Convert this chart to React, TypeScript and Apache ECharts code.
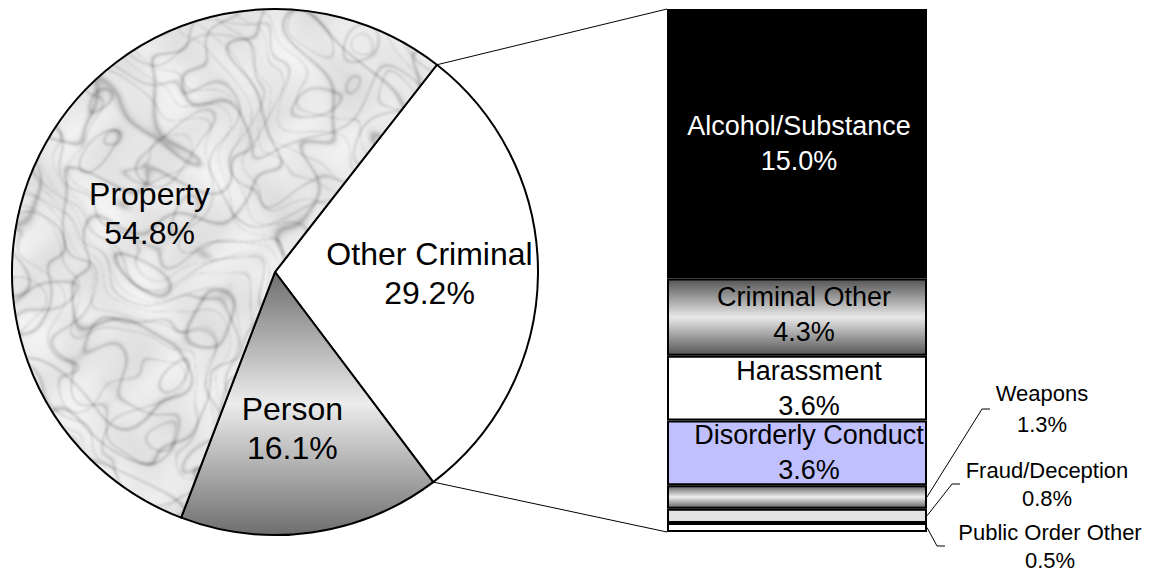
import React, { useEffect, useRef } from "react";
import * as echarts from "echarts";

// ---------- data ----------
const pieNames = ["Other Criminal", "Person", "Property"];
const pieValues = [29.2, 16.1, 54.8];

const barNames = [
  "Alcohol/Substance",
  "Criminal Other",
  "Harassment",
  "Disorderly Conduct",
  "Weapons",
  "Fraud/Deception",
  "Public Order Other",
];
const barValues = [15.0, 4.3, 3.6, 3.6, 1.3, 0.8, 0.5];

// ---------- layout / style ----------
const W = 1160;
const H = 573;
const FONT = "'Liberation Sans', Arial, sans-serif";
const PIE_CX = 275;
const PIE_CY = 272;
const PIE_R = 263;
const START_ANGLE = 52;
const BAR_L = 667;
const BAR_R = 927;
const BAR_T = 9;
const BAR_B = 532;

// label anchor: fraction of radius along the slice's mid angle, plus a pixel offset
const pieLabelRadius = 0.5;
const pieLabelOffsets = [
  [23, 0],
  [-1, 26],
  [-11, 6],
];
const barLabelOffsets = [
  [2, 0],
  [7, -3],
  [12, 0],
  [12, 0],
];
// outside label layout for the small segments (index 4,5,6)
const outsideLabelLayout = [
  { cx: 1042, cy: 409, elbowX: 982, stubX: 990, lh: 31 },
  { cx: 1047, cy: 484, elbowX: 952, stubX: 960, lh: 28 },
  { cx: 1050, cy: 546, elbowX: 937, stubX: 945, lh: 28 },
];

function vGrad(edge: string, mid: string) {
  return new echarts.graphic.LinearGradient(0, 0, 0, 1, [
    { offset: 0, color: edge },
    { offset: 0.5, color: mid },
    { offset: 1, color: edge },
  ]);
}

function makeMarble(): HTMLCanvasElement {
  const size = 560;
  const c = document.createElement("canvas");
  c.width = size;
  c.height = size;
  const ctx = c.getContext("2d")!;
  const img = ctx.createImageData(size, size);
  for (let y = 0; y < size; y++) {
    for (let x = 0; x < size; x++) {
      const w1 =
        1.5 * Math.sin(x * 0.023 + 1.4 * Math.sin(y * 0.019 + 0.3)) +
        1.0 * Math.sin(y * 0.031 + 1.1 * Math.sin(x * 0.027 + 0.5)) +
        0.5 * Math.sin(x * 0.071 - y * 0.053 + 0.9 * Math.sin(y * 0.06));
      const w2 =
        1.3 * Math.sin(y * 0.026 + 1.3 * Math.sin(x * 0.021 + 1.1)) +
        0.9 * Math.sin(x * 0.039 + 0.9 * Math.sin(y * 0.034 + 2.0)) +
        0.45 * Math.sin(y * 0.083 + x * 0.047 + 0.8 * Math.sin(x * 0.07));
      const t1 = x * 0.02 + y * 0.014 + w1;
      const t2 = -x * 0.016 + y * 0.022 + w2;
      const t3 = x * 0.035 - y * 0.028 + 0.6 * w1 - 0.8 * w2;
      const v1 = Math.pow(1 - Math.abs(Math.sin(t1 * 1.8)), 8);
      const v2 = Math.pow(1 - Math.abs(Math.sin(t2 * 2.1)), 10);
      const v3 = Math.pow(1 - Math.abs(Math.sin(t3 * 2.6)), 14);
      const blot =
        7 * Math.sin(x * 0.035 + y * 0.02) * Math.sin(y * 0.045 - x * 0.015) +
        4 * Math.sin(x * 0.09 + 2 * Math.sin(y * 0.05));
      const base = 232 + blot;
      let g = base - 60 * v1 - 50 * v2 - 45 * v3;
      g = Math.max(130, Math.min(248, g));
      const k = (y * size + x) * 4;
      img.data[k] = g;
      img.data[k + 1] = g;
      img.data[k + 2] = g;
      img.data[k + 3] = 255;
    }
  }
  ctx.putImageData(img, 0, 0);
  const c2 = document.createElement("canvas");
  c2.width = size;
  c2.height = size;
  const ctx2 = c2.getContext("2d")!;
  ctx2.fillStyle = "#e8e8e8";
  ctx2.fillRect(0, 0, size, size);
  ctx2.filter = "blur(1.2px)";
  ctx2.drawImage(c, 0, 0);
  return c2;
}

export default function App() {
  const ref = useRef<HTMLDivElement>(null);

  useEffect(() => {
    const chart = echarts.init(ref.current!, null, { renderer: "svg" });

    const pieFills: any[] = [
      "#ffffff",
      vGrad("#6e6e6e", "#ececec"),
      { image: makeMarble(), repeat: "repeat" },
    ];
    const barFills: any[] = [
      "#000000",
      vGrad("#555555", "#e8e8e8"),
      "#ffffff",
      "#c0c0ff",
      vGrad("#666666", "#eeeeee"),
      "#e3e3e3",
      "#ffffff",
    ];

    const barTotal = barValues.reduce((a, b) => a + b, 0);
    const pieTotal = pieValues.reduce((a, b) => a + b, 0);

    // slice mid angles from the data
    const pieMid: number[] = [];
    {
      let acc = 0;
      pieValues.forEach((v) => {
        const a = START_ANGLE - (360 * (acc + v / 2)) / pieTotal;
        pieMid.push((a * Math.PI) / 180);
        acc += v;
      });
    }

    const option: any = {
      animation: false,
      backgroundColor: "#ffffff",
      grid: {
        left: BAR_L,
        right: W - BAR_R,
        top: BAR_T,
        bottom: H - BAR_B,
      },
      xAxis: { type: "category", data: ["Other Criminal"], show: false },
      yAxis: { type: "value", min: 0, max: barTotal, inverse: true, show: false },
      series: [
        {
          type: "pie",
          center: [PIE_CX, PIE_CY],
          radius: [0, PIE_R],
          startAngle: START_ANGLE,
          clockwise: true,
          silent: true,
          avoidLabelOverlap: false,
          data: pieNames.map((n, i) => ({
            name: n,
            value: pieValues[i],
            itemStyle: { color: pieFills[i] },
          })),
          itemStyle: { borderColor: "#000", borderWidth: 2 },
          label: {
            show: true,
            position: "inside",
            formatter: (p: any) => `${p.name}\n${Number(p.value).toFixed(1)}%`,
            color: "#000",
            fontSize: 32,
            lineHeight: 39,
            fontFamily: FONT,
            align: "center",
            verticalAlign: "middle",
          },
          labelLine: { show: false },
          labelLayout: (params: any) => {
            const i = params.dataIndex;
            const o = pieLabelOffsets[i] || [0, 0];
            const a = pieMid[i];
            return {
              x: PIE_CX + pieLabelRadius * PIE_R * Math.cos(a) + o[0],
              y: PIE_CY - pieLabelRadius * PIE_R * Math.sin(a) + o[1],
              align: "center",
              verticalAlign: "middle",
            };
          },
        },
        ...barNames.map((name, i) => ({
          type: "bar",
          name,
          stack: "total",
          data: [barValues[i]],
          barWidth: "100%",
          barCategoryGap: "0%",
          silent: true,
          itemStyle: { color: barFills[i], borderColor: "#000", borderWidth: 2 },
          label: {
            show: i < 4,
            position: "inside",
            formatter: (p: any) => `${p.seriesName}\n${Number(p.value).toFixed(1)}%`,
            color: i === 0 ? "#ffffff" : "#000000",
            fontSize: 27,
            lineHeight: 35,
            fontFamily: FONT,
            offset: barLabelOffsets[i] || [0, 0],
          },
        })),
      ],
    };

    chart.setOption(option);

    // ---- connectors and outside labels, computed from the library's scales ----
    const graphics: any[] = [];
    const a1 = (START_ANGLE * Math.PI) / 180;
    const a2 = ((START_ANGLE - (360 * pieValues[0]) / pieTotal) * Math.PI) / 180;
    const yTop = chart.convertToPixel({ yAxisIndex: 0 }, 0) as number;
    const yBot = chart.convertToPixel({ yAxisIndex: 0 }, barTotal) as number;
    graphics.push({
      type: "line",
      silent: true,
      shape: {
        x1: PIE_CX + PIE_R * Math.cos(a1),
        y1: PIE_CY - PIE_R * Math.sin(a1),
        x2: BAR_L,
        y2: yTop,
      },
      style: { stroke: "#000", lineWidth: 1 },
    });
    graphics.push({
      type: "line",
      silent: true,
      shape: {
        x1: PIE_CX + PIE_R * Math.cos(a2),
        y1: PIE_CY - PIE_R * Math.sin(a2),
        x2: BAR_L,
        y2: yBot,
      },
      style: { stroke: "#000", lineWidth: 1 },
    });

    let cum = 0;
    barValues.forEach((v, i) => {
      const mid = cum + v / 2;
      cum += v;
      if (i < 4) return;
      const lay = outsideLabelLayout[i - 4];
      const y = chart.convertToPixel({ yAxisIndex: 0 }, mid) as number;
      graphics.push({
        type: "polyline",
        silent: true,
        shape: {
          points: [
            [BAR_R, y],
            [lay.elbowX, lay.cy],
            [lay.stubX, lay.cy],
          ],
        },
        style: { stroke: "#000", lineWidth: 1, fill: null },
      });
      graphics.push({
        type: "text",
        silent: true,
        x: lay.cx,
        y: lay.cy,
        style: {
          text: `${barNames[i]}\n${v.toFixed(1)}%`,
          fontSize: 22,
          fontFamily: FONT,
          fill: "#000",
          align: "center",
          verticalAlign: "middle",
          lineHeight: lay.lh,
        },
      });
    });

    chart.setOption({ graphic: graphics });

    return () => chart.dispose();
  }, []);

  return (
    <div
      ref={ref}
      style={{ position: "absolute", left: 0, top: 0, width: W, height: H }}
    />
  );
}
